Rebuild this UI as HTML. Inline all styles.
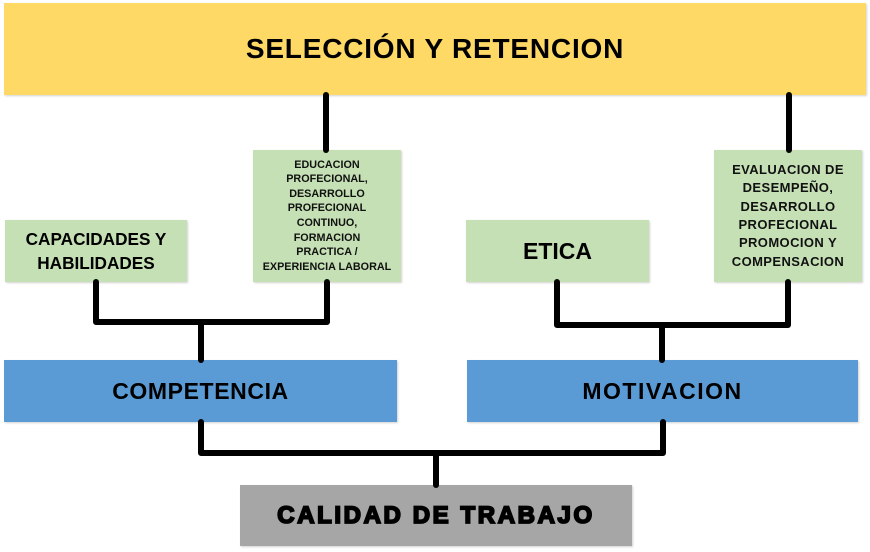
<!DOCTYPE html>
<html><head><meta charset="utf-8"><style>
html,body{margin:0;padding:0;background:#fff;}
body{width:870px;height:552px;position:relative;overflow:hidden;font-family:"Liberation Sans",sans-serif;font-weight:bold;color:#000;}
.b{position:absolute;display:flex;align-items:center;justify-content:center;text-align:center;box-shadow:1px 1px 2px rgba(0,0,0,0.18);}
.y{background:#FFD966;}
.g{background:#C5E0B4;}
.bl{background:#5B9BD5;}
.gr{background:#A6A6A6;}
svg{position:absolute;left:0;top:0;}
</style></head><body>
<div class="b y" style="left:4px;top:3px;width:862px;height:92px;font-size:28px;letter-spacing:0.8px;">SELECCIÓN Y RETENCION</div>
<div class="b g" style="left:5px;top:220px;width:182px;height:62px;font-size:17.2px;line-height:24px;">CAPACIDADES Y<br>HABILIDADES</div>
<div class="b g" style="left:253px;top:150px;width:148px;height:132px;font-size:10.8px;line-height:14.6px;color:#111;">EDUCACION<br>PROFECIONAL,<br>DESARROLLO<br>PROFECIONAL<br>CONTINUO,<br>FORMACION<br>PRACTICA /<br>EXPERIENCIA LABORAL</div>
<div class="b g" style="left:466px;top:220px;width:183px;height:62px;font-size:23px;">ETICA</div>
<div class="b g" style="left:714px;top:150px;width:148px;height:132px;font-size:13px;line-height:18.4px;letter-spacing:0.4px;color:#111;">EVALUACION DE<br>DESEMPEÑO,<br>DESARROLLO<br>PROFECIONAL<br>PROMOCION Y<br>COMPENSACION</div>
<div class="b bl" style="left:4px;top:360px;width:393px;height:62px;font-size:23px;letter-spacing:0.6px;">COMPETENCIA</div>
<div class="b bl" style="left:467px;top:360px;width:391px;height:62px;font-size:23px;letter-spacing:1.5px;">MOTIVACION</div>
<div class="b gr" style="left:240px;top:485px;width:392px;height:61px;font-size:24px;font-weight:900;letter-spacing:2.6px;-webkit-text-stroke:1.8px #000;">CALIDAD DE TRABAJO</div>
<svg width="870" height="552" viewBox="0 0 870 552">
<g fill="none" stroke="#000" stroke-width="6" stroke-linecap="round" stroke-linejoin="round">
<path d="M326,95 V150"/>
<path d="M789,95 V150"/>
<path d="M96,282 V322 H327 V282"/>
<path d="M201,322 V360"/>
<path d="M557,282 V325 H788 V282"/>
<path d="M662,325 V360"/>
<path d="M201,422 V453 H663 V422"/>
<path d="M436,453 V485"/>
</g>
</svg>
</body></html>
